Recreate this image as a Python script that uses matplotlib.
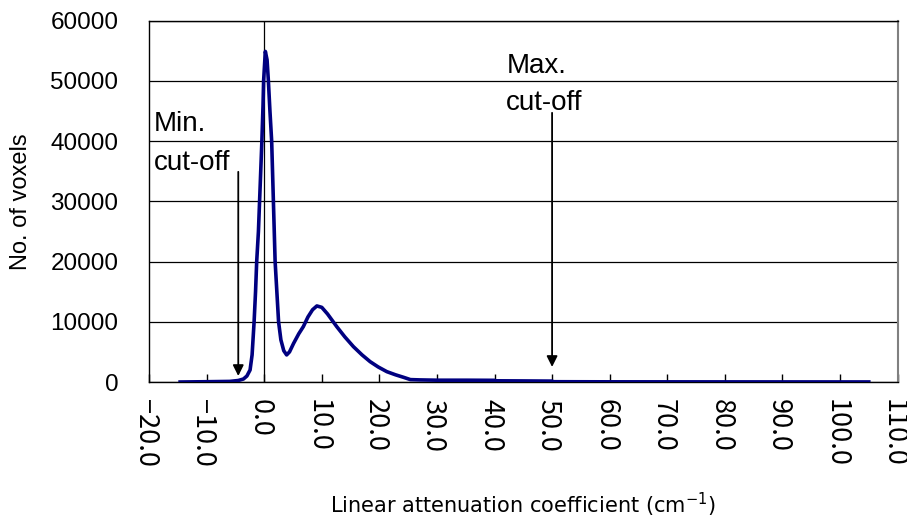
import matplotlib
matplotlib.use("Agg")
import matplotlib.pyplot as plt
from matplotlib.transforms import ScaledTranslation

# histogram
mu = [-14.6, -10, -6, -4.5, -3.6, -3.0, -2.45, -2.1, -1.75, -1.5, -1.3, -1.0,
      -0.8, -0.6, -0.4, -0.2, -0.1, 0.2, 0.5, 0.73, 1.0, 1.3, 1.6, 1.9, 2.2,
      2.5, 2.9, 3.4, 3.9, 4.4, 5.1, 6.0, 6.8, 7.6, 8.4, 9.15, 10.0, 11.0, 12.6,
      14.0, 15.5, 17.0, 18.4, 19.8, 21.3, 22.8, 24.2, 25.4, 27, 30, 35, 40,
      40.2, 45, 50, 50.2, 60, 80, 105]
voxels = [0, 50, 100, 250, 500, 1000, 2000, 4500, 10000, 15000, 20000, 25000,
          30000, 35000, 40000, 46000, 50000, 54900, 53500, 50000, 45000, 40000,
          30000, 20000, 15000, 10000, 7000, 5200, 4500, 5000, 6400, 8000, 9200,
          10800, 12000, 12630, 12400, 11300, 9200, 7500, 5870, 4500, 3380, 2500,
          1720, 1200, 780, 400, 350, 300, 300, 280, 200, 180, 150, 50, 30, 20, 10]

xticks = list(range(-20, 111, 10))
xlabels = [("\u221220.0" if v == -20 else "\u221210.0" if v == -10 else "%.1f" % v) for v in xticks]
yticks = list(range(0, 60001, 10000))

min_cut = -4.5
max_cut = 50.0

fig = plt.figure(figsize=(9.07, 5.17), dpi=100)
ax = fig.add_axes([0.1643, 0.2611, 0.8253, 0.6989])

ax.plot(mu, voxels, color="#000080", lw=2.6, zorder=3, solid_joinstyle="round")

ax.set_xlim(-20, 110)
ax.set_ylim(0, 60000)
ax.set_yticks(yticks)
ax.set_xticks(xticks)
ax.tick_params(axis="x", direction="in", length=6, width=1, pad=12)
ax.tick_params(axis="y", length=0, pad=22)
ax.set_xticklabels(xlabels, rotation=270, family=["Noto Sans CJK JP", "DejaVu Sans"],
                   fontsize=19.5, va="top", ha="center")
ax.set_yticklabels([str(v) for v in yticks], family="Liberation Sans", fontsize=17.5)

ax.grid(axis="y", color="black", lw=0.9)
ax.axvline(0, color="black", lw=0.9, zorder=2)
for s in ax.spines.values():
    s.set_color("black")
    s.set_linewidth(1.0)
ax.spines["right"].set_color("#808080")
ax.spines["right"].set_linewidth(1.5)

ax.set_ylabel("No. of voxels", family="Liberation Sans", fontsize=17)
ax.yaxis.set_label_coords(-0.156, 0.5)
ax.set_xlabel("Linear attenuation coefficient (cm$^{-1}$)",
              family="DejaVu Sans", fontsize=15)
ax.xaxis.set_label_coords(0.499, -0.300)

arrow = dict(arrowstyle="-|>", color="black", lw=1.3, mutation_scale=16,
             shrinkA=0, shrinkB=0)
ax.annotate("", xy=(min_cut, 1000), xytext=(min_cut, 34900), arrowprops=arrow)
ax.annotate("", xy=(max_cut, 2500), xytext=(max_cut, 44700), arrowprops=arrow)

tf = dict(family="Liberation Sans", fontsize=20, va="baseline", ha="left")
ax.text(-19.2, 41600, "Min.", **tf)
ax.text(-19.2, 35230, "cut-off", **tf)
ax.text(42.1, 51300, "Max.", **tf)
ax.text(42.0, 45200, "cut-off", **tf)

# shift the rotated tick labels a little to the left, like the original
fig.canvas.draw()
shift = ScaledTranslation(-4 / 100, 0, fig.dpi_scale_trans)
for lab in ax.get_xticklabels():
    lab.set_transform(lab.get_transform() + shift)

fig.savefig("out.png", dpi=100)
